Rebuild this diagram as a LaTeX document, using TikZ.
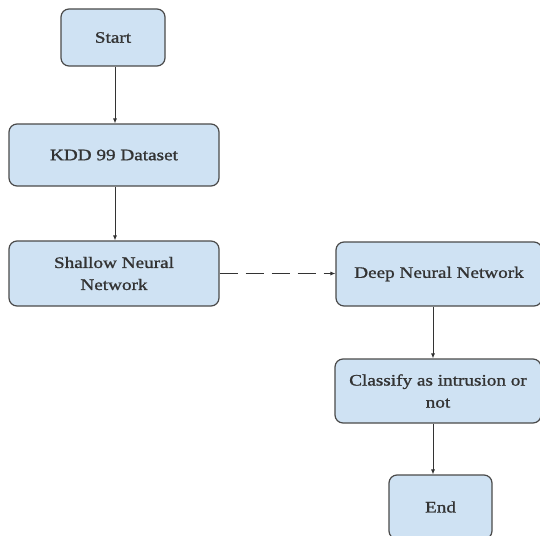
\documentclass[tikz,border=0pt]{standalone}
\usepackage{fontspec}
\setmainfont{Liberation Serif}[FakeStretch=1.2,FakeBold=1.2]
\usetikzlibrary{arrows.meta}
\definecolor{boxfill}{HTML}{CFE2F3}
\definecolor{boxline}{HTML}{4A4A4A}
\definecolor{txt}{HTML}{333333}
\begin{document}
\begin{tikzpicture}[x=1pt,y=-1pt,
  stepbox/.style={draw=boxline,fill=boxfill,line width=1.2pt,rounded corners=8pt,
    text=txt,font=\fontsize{16}{22}\selectfont,align=center,inner sep=0pt},
  conn/.style={draw=black!80,line width=0.8pt,-{Latex[length=5pt,width=4pt]}}]
\useasboundingbox (0,0) rectangle (540,535);
\node[stepbox,minimum width=104pt,minimum height=57pt] (start) at (113,37.5) {Start};
\node[stepbox,minimum width=210pt,minimum height=62pt] (kdd) at (114,155) {KDD 99 Dataset};
\node[stepbox,minimum width=210pt,minimum height=65pt] (shallow) at (114,273.5) {Shallow Neural\\Network};
\node[stepbox,minimum width=206pt,minimum height=64pt] (deep) at (439,274) {Deep Neural Network};
\node[stepbox,minimum width=206pt,minimum height=64pt] (cls) at (438,391) {Classify as intrusion or\\not};
\node[stepbox,minimum width=103pt,minimum height=64pt] (end) at (440.5,507) {End};
\draw[conn] (start.south -| 115,0) -- (kdd.north -| 115,0);
\draw[conn] (kdd.south -| 115,0) -- (shallow.north -| 115,0);
\draw[conn,dash pattern=on 18pt off 8pt] (shallow.east) -- (shallow.east -| deep.west);
\draw[conn] (deep.south -| 433,0) -- (cls.north -| 433,0);
\draw[conn] (cls.south -| 433,0) -- (end.north -| 433,0);
\end{tikzpicture}
\end{document}
